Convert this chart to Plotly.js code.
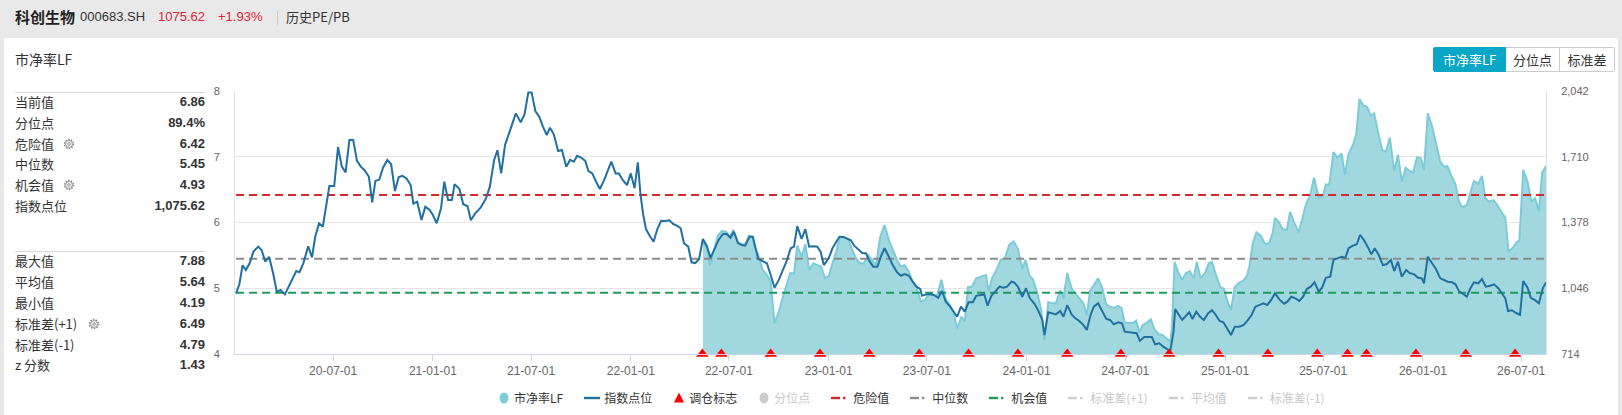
<!DOCTYPE html>
<html>
<head>
<meta charset="utf-8">
<script src="https://cdn.plot.ly/plotly-3.0.1.min.js"></script>
<style>
html,body{margin:0;padding:0;width:1622px;height:415px;overflow:hidden;background:#e9e9e9;font-family:"Noto Sans CJK SC","Noto Sans",sans-serif;color:#333;}
#card{position:absolute;left:4px;top:38px;width:1614px;height:390px;background:#fff;border-radius:3px;}
#chart{position:absolute;left:0;top:0;width:1622px;height:415px;}
.abs{position:absolute;white-space:nowrap;}
#hdr span{position:absolute;top:7px;line-height:20px;white-space:nowrap;}
.row{position:absolute;left:15px;width:190px;height:20px;line-height:20px;font-size:13px;}
.row .lab{position:absolute;left:0;top:0;}
.row .val{position:absolute;right:0;top:0;font-family:"Liberation Sans",Arial,sans-serif;font-weight:bold;color:#333;}
.row svg{position:absolute;top:4px;}
.sep{position:absolute;left:15px;width:190px;height:1px;background:#d9d9d9;}
#btns{position:absolute;left:1433px;top:47px;height:25px;display:flex;}
#btns div{height:23px;line-height:23px;font-size:13px;text-align:center;border:1px solid #ccc;color:#333;background:#fff;box-sizing:content-box;}
#legend{position:absolute;left:498px;top:389px;height:18px;display:flex;align-items:center;font-size:12px;}
#legend .it{display:flex;align-items:center;margin-right:21px;}
#legend .it span{margin-left:4px;line-height:18px;}
</style>
</head>
<body>
<div id="card"></div>
<div id="hdr"></div>
<div id="chart"></div>
<div id="panel"></div>
<div id="btns"></div>
<div id="legend"></div>
<script>
// ---------------- data ----------------
const BASE_DATE = '2020-01-04'; // day offsets below are counted from this date

const indexDays = [0,6,12,18,25,32,41,47,54,61,69,75,82,90,97,105,111,117,124,133,140,146,153,160,167,172,181,188,195,202,209,216,223,230,237,245,251,257,264,271,279,286,293,300,307,315,322,327,334,342,349,357,363,370,378,384,391,398,403,412,419,427,433,441,451,461,468,476,482,489,496,503,509,516,525,532,539,545,552,559,566,573,579,586,594,601,609,616,623,629,637,644,650,657,664,671,679,685,692,700,706,713,721,728,735,741,746,751,756,762,770,777,784,792,799,807,813,820,826,834,840,847,854,861,868,875,883,890,898,905,912,918,926,933,939,947,953,957,963,970,979,986,993,1001,1008,1015,1023,1029,1035,1043,1050,1057,1065,1072,1078,1084,1093,1100,1107,1113,1120,1127,1134,1140,1147,1155,1162,1168,1175,1183,1189,1196,1204,1211,1219,1226,1233,1241,1248,1255,1262,1265,1273,1280,1287,1295,1302,1309,1317,1324,1330,1337,1344,1351,1359,1365,1372,1380,1386,1393,1400,1408,1415,1422,1430,1435,1442,1450,1457,1464,1472,1479,1487,1491,1498,1505,1512,1520,1526,1533,1541,1548,1555,1563,1569,1576,1582,1590,1597,1605,1612,1619,1627,1634,1639,1646,1654,1661,1667,1675,1682,1689,1695,1703,1710,1718,1723,1729,1732,1739,1745,1752,1758,1764,1771,1778,1785,1793,1800,1807,1814,1821,1827,1835,1842,1850,1858,1865,1873,1880,1887,1895,1902,1909,1916,1925,1933,1939,1946,1954,1961,1968,1975,1982,1989,1997,2003,2010,2018,2024,2031,2039,2046,2052,2060,2067,2073,2080,2088,2094,2100,2107,2115,2122,2130,2136,2143,2150,2158,2165,2173,2180,2187,2191,2198,2206,2213,2221,2228,2235,2243,2249,2256,2262,2270,2276,2283,2291,2298,2305,2313,2320,2328,2335,2341,2346,2353,2361,2368,2374,2382,2388,2395,2403,2410,2416];

const indexValues = [1020,1066,1162,1138,1172,1231,1256,1239,1180,1205,
1113,1029,1037,1015,1054,1096,1133,1127,1172,1258,
1202,1306,1374,1357,1466,1562,1562,1759,1660,1631,
1795,1795,1689,1660,1642,1609,1480,1588,1594,1655,
1694,1672,1537,1608,1614,1598,1567,1473,1483,1391,
1458,1441,1416,1374,1450,1584,1492,1492,1572,1547,
1470,1460,1389,1424,1453,1500,1559,1694,1743,1626,
1769,1823,1874,1929,1884,1924,2035,2035,1941,1912,
1862,1820,1857,1823,1739,1744,1660,1694,1685,1715,
1705,1689,1638,1626,1584,1547,1593,1632,1685,1626,
1626,1593,1567,1626,1551,1682,1517,1416,1345,1315,
1281,1345,1387,1386,1389,1369,1362,1349,1273,1256,
1177,1173,1194,1295,1261,1200,1248,1290,1320,1320,
1301,1332,1273,1264,1261,1306,1306,1256,1194,1184,
1172,1113,1049,1088,1130,1180,1248,1256,1360,1295,
1344,1256,1258,1256,1231,1163,1197,1248,1281,1306,
1305,1298,1288,1261,1244,1224,1222,1184,1155,1155,
1205,1248,1205,1163,1127,1109,1118,1109,1079,1054,
1042,1008,1015,1017,1012,998,1032,978,953,928,
902,953,928,975,975,1008,1012,1015,958,1008,
1029,1054,1049,1054,1079,1076,1054,1003,1046,995,
970,936,886,810,925,920,914,931,902,961,
914,894,881,860,835,911,953,970,936,891,
886,864,874,869,827,824,819,819,780,800,
800,800,763,768,751,738,729,827,941,911,
886,907,925,891,928,902,886,920,935,911,
881,874,844,810,852,852,860,881,911,953,
961,970,961,987,1020,987,968,978,1003,995,
982,1003,1042,1054,1076,1029,1049,1099,1104,1189,
1197,1205,1200,1248,1261,1268,1315,1290,1251,1217,
1248,1217,1163,1167,1189,1133,1180,1104,1138,1122,
1116,1099,1096,1071,1205,1172,1143,1096,1086,1079,
1076,1066,1029,1020,1003,1042,1076,1071,1093,1054,
1059,1066,1046,1020,995,931,935,921,911,1083,
1049,998,987,970,1046,1075.62];

const pbDays = [861,868,874,882,889,896,904,911,917,925,
933,939,946,953,957,963,970,979,986,993,
1001,1008,1015,1022,1029,1035,1043,1050,1057,1065,
1072,1079,1086,1093,1100,1107,1113,1121,1129,1135,
1143,1151,1158,1166,1173,1180,1188,1196,1204,1211,
1219,1226,1233,1241,1248,1255,1263,1270,1278,1285,
1292,1301,1308,1316,1323,1330,1338,1344,1350,1357,
1365,1375,1383,1388,1394,1403,1410,1418,1426,1434,
1442,1450,1456,1463,1470,1478,1485,1491,1498,1505,
1512,1520,1526,1533,1541,1548,1555,1563,1569,1575,
1582,1590,1597,1605,1612,1619,1627,1633,1639,1646,
1654,1660,1666,1672,1680,1687,1694,1702,1709,1716,
1723,1726,1731,1737,1745,1752,1759,1766,1772,1779,
1787,1794,1800,1807,1815,1822,1828,1835,1842,1849,
1857,1864,1869,1875,1882,1890,1897,1905,1912,1916,
1924,1930,1938,1944,1951,1960,1967,1973,1981,1988,
1997,2004,2010,2016,2024,2031,2039,2045,2052,2060,
2066,2072,2079,2086,2093,2099,2106,2114,2121,2128,
2136,2143,2150,2157,2164,2171,2178,2185,2191,2198,
2206,2213,2221,2228,2234,2241,2249,2255,2262,2270,
2276,2283,2291,2298,2304,2311,2319,2326,2334,2341,
2347,2355,2362,2367,2374,2382,2389,2396,2403,2409,
2416];

const pbValues = [5.71,5.61,5.35,5.61,5.81,5.87,5.86,5.78,5.89,5.70,
5.67,5.67,5.80,5.78,5.61,5.51,5.30,5.20,5.10,4.47,
4.64,4.85,5.05,5.23,5.23,5.65,5.48,5.67,5.28,5.38,
5.35,5.33,5.16,5.18,5.38,5.56,5.77,5.77,5.75,5.61,
5.46,5.38,5.38,5.50,5.43,5.35,5.78,5.96,5.73,5.58,
5.43,5.33,5.35,5.25,5.09,5.01,4.80,4.82,4.91,4.90,
4.87,5.13,4.85,4.75,4.64,4.39,4.57,4.49,5.02,5.02,
5.15,5.18,5.20,4.95,5.15,5.29,5.43,5.46,5.66,5.71,
5.60,5.30,5.43,5.20,5.13,4.92,4.67,4.21,4.79,4.77,
4.77,4.97,4.85,5.23,5.00,4.92,4.85,4.77,4.59,4.96,
5.05,5.15,5.02,4.75,4.72,4.70,4.73,4.70,4.48,4.48,
4.47,4.51,4.33,4.44,4.48,4.53,4.37,4.30,4.29,4.24,
4.19,4.39,5.40,5.25,5.13,5.23,5.26,5.15,5.40,5.15,
5.23,5.38,5.40,5.21,5.02,4.99,4.81,4.67,5.02,5.08,
5.11,5.18,5.33,5.68,5.85,5.80,5.68,5.68,5.84,6.07,
6.00,5.90,5.89,6.16,6.01,5.85,6.09,6.27,6.41,6.68,
6.38,6.39,6.58,6.57,7.07,6.99,7.05,6.73,7.05,7.18,
7.34,7.88,7.78,7.76,7.62,7.66,7.38,7.10,7.08,7.29,
6.78,7.03,6.62,6.83,6.79,6.76,6.99,6.98,6.80,7.66,
7.46,7.19,6.92,6.85,6.86,6.72,6.58,6.33,6.23,6.27,
6.42,6.63,6.59,6.71,6.37,6.32,6.34,6.27,6.16,6.07,
5.56,5.62,5.70,5.73,6.80,6.62,6.32,6.37,6.17,6.76,
6.86];

const rebalanceDays = [860,895,986,1077,1168,1260,1351,1442,1533,1632,1721,1812,1903,1994,2050,2085,2176,2268,2359];

const dangerValue = 6.42;
const medianValue = 5.45;
const chanceValue = 4.93;
const upperStdValue = 6.49;
const meanValue = 5.64;
const lowerStdValue = 4.79;

const xTickDates = ['2020-07-01','2021-01-01','2021-07-01','2022-01-01','2022-07-01','2023-01-01','2023-07-01','2024-01-01','2024-07-01','2025-01-01','2025-07-01','2026-01-01','2026-07-01'];
const pbTicks = [4,5,6,7,8];
const indexTicks = [714,1046,1378,1710,2042];

const headerName = '科创生物';
const headerCode = '000683.SH';
const headerPrice = '1075.62';
const headerChange = '+1.93%';
const headerTab = '历史PE/PB';

const panelTitle = '市净率LF';
const statLabelsTop = ['当前值','分位点','危险值','中位数','机会值','指数点位'];
const statValuesTop = ['6.86','89.4%','6.42','5.45','4.93','1,075.62'];
const statLabelsBottom = ['最大值','平均值','最小值','标准差(+1)','标准差(-1)','z 分数'];
const statValuesBottom = ['7.88','5.64','4.19','6.49','4.79','1.43'];
const gearLabels = ['危险值','机会值','标准差(+1)'];

const buttonLabels = ['市净率LF','分位点','标准差'];
const legendNames = ['市净率LF','指数点位','调仓标志','分位点','危险值','中位数','机会值','标准差(+1)','平均值','标准差(-1)'];

// ---------------- colors ----------------
const C_AREA = 'rgb(161,216,224)';
const C_AREA_LINE = 'rgb(124,203,214)';
const C_INDEX = '#21709f';
const C_DANGER = '#d12a2a';
const C_MEDIAN = '#8c8c8c';
const C_CHANCE = '#1c9b5c';
const C_OFF = '#cccccc';

// ---------------- helpers ----------------
const baseMs = Date.parse(BASE_DATE + 'T00:00:00Z');
function toDate(d){ return new Date(baseMs + d*86400000).toISOString().slice(0,10); }

const indexX = indexDays.map(toDate);
const pbX = pbDays.map(toDate);
const rebX = rebalanceDays.map(toDate);
const spanX = [indexX[0], indexX[indexX.length-1]];

// ---------------- traces ----------------
const dash = '8px,5px';
const traces = [
  {x: pbX, y: pbValues, type:'scatter', mode:'lines', name:'市净率LF', yaxis:'y',
   fill:'tozeroy', fillcolor:C_AREA, line:{color:C_AREA_LINE, width:2}, hoverinfo:'skip'},
  {x: spanX, y:[dangerValue,dangerValue], type:'scatter', mode:'lines', name:'危险值', yaxis:'y',
   line:{color:C_DANGER, width:2, dash:dash}, hoverinfo:'skip'},
  {x: spanX, y:[medianValue,medianValue], type:'scatter', mode:'lines', name:'中位数', yaxis:'y',
   line:{color:C_MEDIAN, width:2, dash:dash}, hoverinfo:'skip'},
  {x: spanX, y:[chanceValue,chanceValue], type:'scatter', mode:'lines', name:'机会值', yaxis:'y',
   line:{color:C_CHANCE, width:2, dash:dash}, hoverinfo:'skip'},
  {x: spanX, y:[upperStdValue,upperStdValue], type:'scatter', mode:'lines', name:'标准差(+1)', yaxis:'y', visible:false},
  {x: spanX, y:[meanValue,meanValue], type:'scatter', mode:'lines', name:'平均值', yaxis:'y', visible:false},
  {x: spanX, y:[lowerStdValue,lowerStdValue], type:'scatter', mode:'lines', name:'标准差(-1)', yaxis:'y', visible:false},
  {x: indexX, y: indexValues, type:'scatter', mode:'lines', name:'指数点位', yaxis:'y2',
   line:{color:C_INDEX, width:2}, hoverinfo:'skip'},
  {x: rebX, y: rebX.map(()=>indexTicks[0]), type:'scatter', mode:'markers', name:'调仓标志', yaxis:'y2',
   marker:{symbol:'triangle-up', size:11, color:'#ff0000'}, cliponaxis:false, hoverinfo:'skip'}
];

const axisFont = {family:'"Liberation Sans", Arial, sans-serif', size:11, color:'#666'};
const layout = {
  width:1622, height:415,
  margin:{l:235, r:76, t:91, b:61, pad:0},
  paper_bgcolor:'rgba(0,0,0,0)', plot_bgcolor:'rgba(0,0,0,0)',
  showlegend:false,
  xaxis:{type:'date', range:[toDate(-2), toDate(2416)], tickmode:'array', tickvals:xTickDates,
    tickformat:'%y-%m-%d', ticks:'outside', ticklen:6, tickcolor:'#ccd6eb',
    showline:true, linecolor:'#ccd6eb', linewidth:1, showgrid:false, zeroline:false,
    tickfont:{family:'"Liberation Sans", Arial, sans-serif', size:12, color:'#666'}, fixedrange:true},
  yaxis:{range:[4,8], tickmode:'array', tickvals:pbTicks, showgrid:true, gridcolor:'#e6e6e6', gridwidth:1,
    showline:true, linecolor:'#dde3ee', zeroline:false, ticks:'', ticklabelstandoff:12, tickfont:axisFont, fixedrange:true},
  yaxis2:{overlaying:'y', side:'right', range:[indexTicks[0], indexTicks[indexTicks.length-1]], tickmode:'array',
    tickvals:indexTicks, tickformat:',d', showgrid:false, showline:true, linecolor:'#dde3ee', zeroline:false,
    ticks:'', ticklabelstandoff:12, tickfont:axisFont, fixedrange:true}
};

Plotly.newPlot('chart', traces, layout, {staticPlot:true, displayModeBar:false});

// ---------------- header ----------------
const hdr = document.getElementById('hdr');
hdr.innerHTML =
  '<span style="left:15px;font-size:15px;font-weight:bold;color:#222;">'+headerName+'</span>'+
  '<span style="left:80px;font-size:13px;font-family:\'Liberation Sans\',Arial,sans-serif;color:#333;">'+headerCode+'</span>'+
  '<span style="left:158px;font-size:13px;font-family:\'Liberation Sans\',Arial,sans-serif;color:#d9243c;">'+headerPrice+'</span>'+
  '<span style="left:218px;font-size:13px;font-family:\'Liberation Sans\',Arial,sans-serif;color:#d9243c;">'+headerChange+'</span>'+
  '<span style="left:277px;top:11px;width:1px;height:14px;background:#ccc;"></span>'+
  '<span style="left:286px;font-size:13px;color:#333;">'+headerTab+'</span>';

// ---------------- left panel ----------------
const gearInner = '<circle cx="6" cy="6" r="4.4" fill="none" stroke="#8a8a8a" stroke-width="1.6" stroke-dasharray="1.5 1.25"/><circle cx="6" cy="6" r="3.4" fill="#fff" stroke="#8a8a8a" stroke-width="0.9"/><circle cx="6" cy="6" r="1.3" fill="none" stroke="#8a8a8a" stroke-width="0.9"/>';
const panel = document.getElementById('panel');
let ph = '<div class="abs" style="left:15px;top:49px;font-size:14px;line-height:20px;color:#333;">'+panelTitle+'</div>';
ph += '<div class="sep" style="top:92px;"></div>';
const topCenters = [102,123,143.5,164,185,205.5];
function gearAt(label){
  if(gearLabels.indexOf(label) < 0) return '';
  const gx = label.length > 3 ? 73 : 48;
  return '<svg width="12" height="12" style="left:'+gx+'px;" viewBox="0 0 12 12">'+gearInner+'</svg>';
}
statLabelsTop.forEach((l,i)=>{
  ph += '<div class="row" style="top:'+(topCenters[i]-10)+'px;"><span class="lab">'+l+'</span>'+gearAt(l)+
        '<span class="val">'+statValuesTop[i]+'</span></div>';
});
ph += '<div class="sep" style="top:251px;"></div>';
const botCenters = [261,282,303,324,344.5,365];
statLabelsBottom.forEach((l,i)=>{
  ph += '<div class="row" style="top:'+(botCenters[i]-10)+'px;"><span class="lab">'+l+'</span>'+gearAt(l)+
        '<span class="val">'+statValuesBottom[i]+'</span></div>';
});
panel.innerHTML = ph;

// ---------------- buttons ----------------
const btnWidths = [71,53,54];
document.getElementById('btns').innerHTML = buttonLabels.map((b,i)=>{
  const active = i===0;
  const st = 'width:'+btnWidths[i]+'px;'+(active?'background:#0aa6c5;color:#fff;border-color:#0aa6c5;border-radius:2px 0 0 2px;':'')+
             (i>0?'border-left:none;':'')+(i===buttonLabels.length-1?'border-radius:0 2px 2px 0;':'');
  return '<div style="'+st+'">'+b+'</div>';
}).join('');

// ---------------- legend ----------------
function sym(kind, color){
  if(kind==='dot') return '<svg width="12" height="14"><ellipse cx="6" cy="7" rx="4.5" ry="5.5" fill="'+color+'"/></svg>';
  if(kind==='line') return '<svg width="16" height="14"><rect x="0" y="5.8" width="16" height="2.4" fill="'+color+'"/></svg>';
  if(kind==='tri') return '<svg width="12" height="14"><polygon points="6,1.5 11,11.5 1,11.5" fill="'+color+'"/></svg>';
  return '<svg width="18" height="14"><rect x="0" y="5.8" width="9" height="2.4" fill="'+color+'"/><rect x="12" y="5.8" width="2.4" height="2.4" fill="'+color+'"/></svg>';
}
const legendKinds = ['dot','line','tri','dot','dash','dash','dash','dash','dash','dash'];
const legendColors = ['#7fcdd8',C_INDEX,'#ff0000',C_OFF,C_DANGER,C_MEDIAN,C_CHANCE,C_OFF,C_OFF,C_OFF];
const legendOn = [true,true,true,false,true,true,true,false,false,false];
document.getElementById('legend').innerHTML = legendNames.map((n,i)=>
  '<div class="it">'+sym(legendKinds[i],legendColors[i])+'<span style="color:'+(legendOn[i]?'#333':'#c8c8c8')+'">'+n+'</span></div>'
).join('');
</script>
</body>
</html>
